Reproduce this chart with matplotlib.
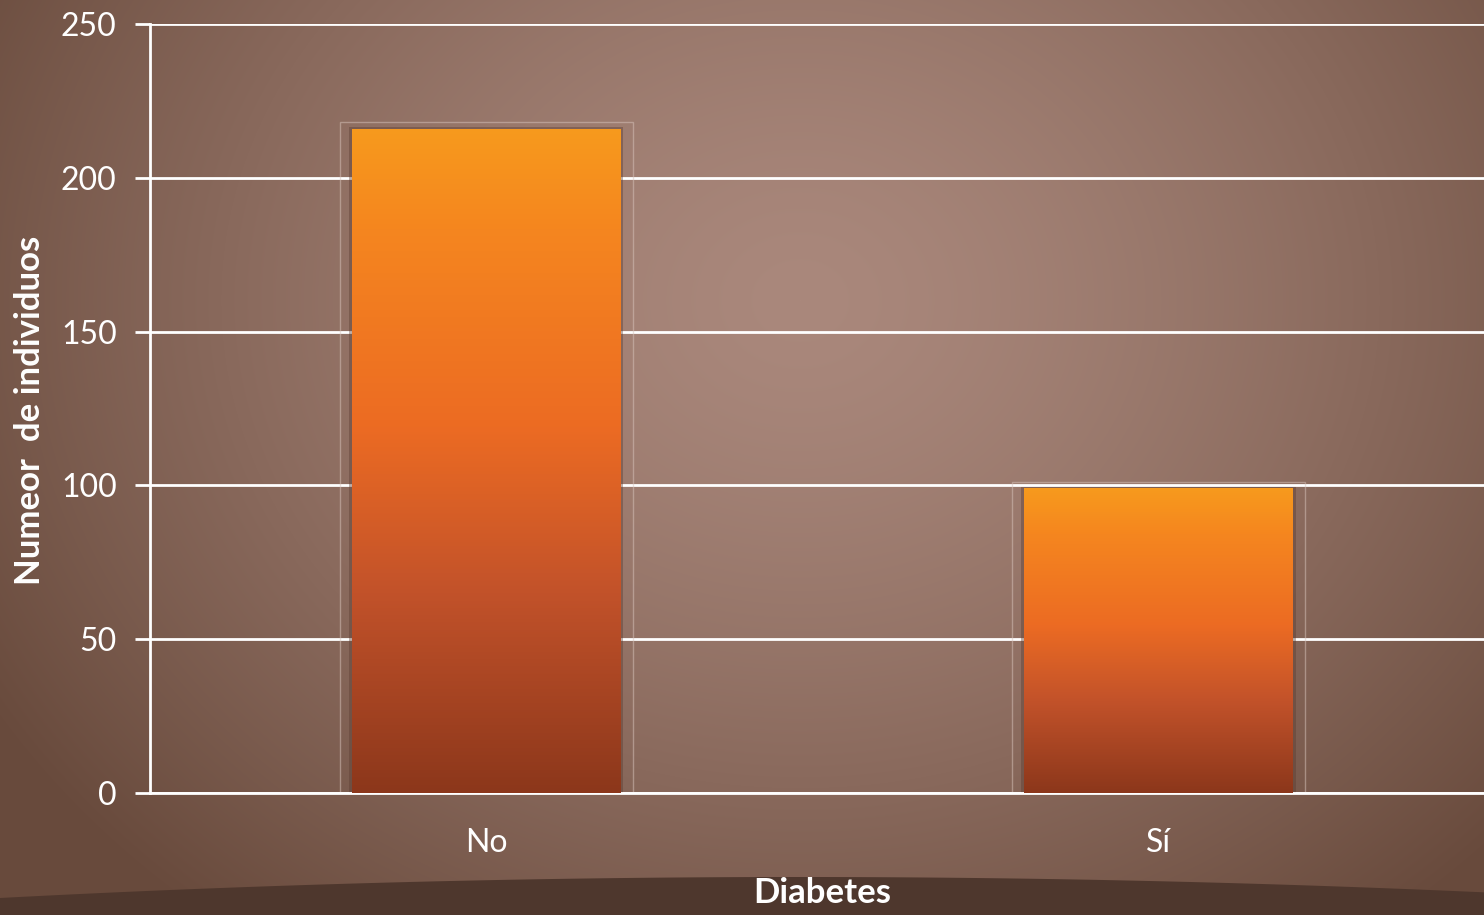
import numpy as np
import matplotlib.pyplot as plt
from matplotlib.colors import LinearSegmentedColormap
from matplotlib.patches import Rectangle, Polygon

categories = ["No", "Sí"]
counts = [216, 99]
y_ticks = [0, 50, 100, 150, 200, 250]

plt.rcParams['font.family'] = ['Lato', 'DejaVu Sans']

fig = plt.figure(figsize=(14.84, 9.15), dpi=100)

# background: soft radial glow, lighter near the upper middle
bg = fig.add_axes([0, 0, 1, 1])
bg.set_axis_off()
yy, xx = np.mgrid[0:915, 0:1484]
r = np.sqrt(((xx - 800) / 950.0) ** 2 + ((yy - 300) / 800.0) ** 2)
r = np.clip(r, 0, 1)
c_in = np.array([0xaa, 0x88, 0x7c]) / 255
c_out = np.array([0x68, 0x4a, 0x3c]) / 255
t = r[..., None] ** 1.4
img = c_in[None, None, :] * (1 - t) + c_out[None, None, :] * t
bg.imshow(img, extent=[0, 1484, 915, 0], aspect='auto')
bx = np.linspace(0, 1484, 200)
by = 877 + 21 * ((bx - 800) / 800.0) ** 2
band = Polygon(np.column_stack([np.r_[bx, 1484, 0], np.r_[by, 915, 915]]),
               closed=True, color='#4e372d', lw=0)
bg.add_patch(band)
bg.set_xlim(0, 1484)
bg.set_ylim(915, 0)

ax = fig.add_axes([150 / 1484, 1 - 793 / 915, 1 - 150 / 1484, 769 / 915])
ax.patch.set_alpha(0)

ax.set_yticks(y_ticks)
ax.yaxis.grid(True, color='white', lw=2)
ax.set_axisbelow(True)
for s in ['top', 'right']:
    ax.spines[s].set_visible(False)
for s in ['left', 'bottom']:
    ax.spines[s].set_color('white')
    ax.spines[s].set_linewidth(2)
ax.tick_params(axis='y', colors='white', labelsize=23, length=11, width=2, pad=13)
ax.tick_params(axis='x', colors='white', labelsize=23, length=0, pad=25)

x = np.arange(len(categories))
bars = ax.bar(x, counts, width=0.40, color='none', zorder=3)

cmap = LinearSegmentedColormap.from_list('bar', [
    (0.0, '#8c371b'), (0.3, '#c2522a'), (0.55, '#ec6b23'),
    (0.85, '#f5861f'), (1.0, '#f79a1d')])
grad = np.linspace(0, 1, 256).reshape(-1, 1)
for b in bars:
    x0, w, h = b.get_x(), b.get_width(), b.get_height()
    # faint outer frame around each bar
    ax.add_patch(Rectangle((x0 - 0.018, 0), w + 0.036, h + 2, fill=False,
                           ec='#d8c4bc', lw=1, alpha=0.5, zorder=2))
    ax.add_patch(Rectangle((x0 - 0.004, 0), w + 0.008, h + 0.6,
                           fc='#5a3b30', alpha=0.4, lw=0, zorder=2.5))
    im = ax.imshow(grad, cmap=cmap, origin='lower', aspect='auto',
                   extent=[x0, x0 + w, 0, h], zorder=3)
    im.set_clip_path(b)

ax.set_xticks(x)
ax.set_xticklabels(categories)
ax.set_xlim(-0.5, 1.484)
ax.set_ylim(0, 250)

fig.text(30 / 1484, 1 - 410 / 915, "Numeor  de individuos", rotation=90,
         color='white', fontsize=25, fontweight='bold', ha='center', va='center')
fig.text(822 / 1484, 1 - 893 / 915, "Diabetes", color='white', fontsize=25,
         fontweight='bold', ha='center', va='center')

fig.savefig("out.png", dpi=100)
